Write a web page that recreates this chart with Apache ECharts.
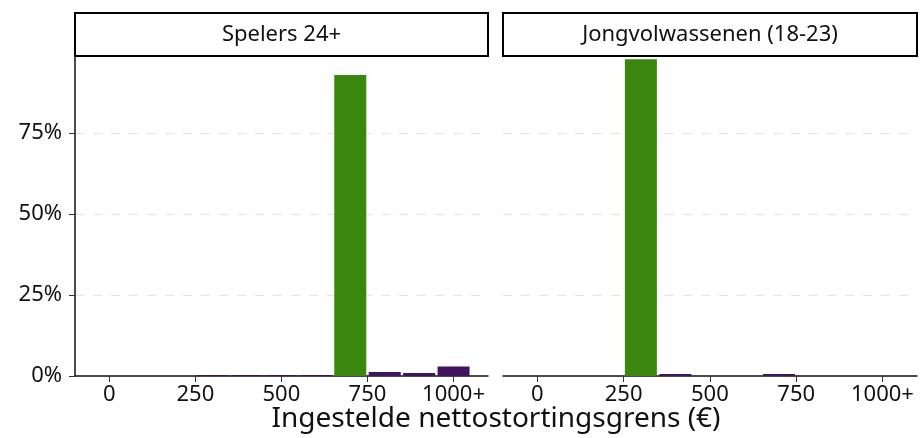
<!DOCTYPE html>
<html>
<head>
<meta charset="utf-8">
<script src="https://cdn.jsdelivr.net/npm/echarts@6/dist/echarts.min.js"></script>
<style>
  html, body { margin: 0; padding: 0; background: #fff; }
  #chart { width: 920px; height: 438px; }
</style>
</head>
<body>
<div id="chart"></div>
<script>
  // facetten
  const panels = ['Spelers 24+', 'Jongvolwassenen (18-23)']
  // grens (euro) -> aandeel (%)
  const spelersGrens = [300, 400, 500, 600, 700, 800, 900, 1000]
  const spelersAandeel = [0.3, 0.3, 0.3, 0.3, 92.9, 1.2, 0.9, 2.9]
  const jongGrens = [300, 400, 700]
  const jongAandeel = [97.8, 0.6, 0.6]
  // standaardgrens per groep (groen gemarkeerd)
  const standaard = [700, 300]
  const xTicks = [0, 250, 500, 750, 1000]
  const yTicks = [0, 25, 50, 75]
  const gridLines = [25, 50, 75]

  const green = '#39870c'
  const purple = '#42145f'
  const font = 'Noto Sans'

  let chart = echarts.init(document.getElementById('chart'))

  let grids = [
    { left: 75, top: 56, width: 413, height: 320 },
    { left: 503, top: 56, width: 414, height: 320 }
  ]

  let xAxes = grids.map((g, i) => {
    return {
      type: 'value',
      gridIndex: i,
      min: -99.5,
      max: 1100,
      axisLine: { show: true, onZero: false, lineStyle: { color: '#111', width: 1.5 } },
      axisTick: { show: true, length: 6, customValues: xTicks, lineStyle: { color: '#333', width: 1 } },
      axisLabel: {
        customValues: xTicks,
        margin: 8,
        color: '#111',
        fontFamily: font,
        fontSize: 22,
        formatter: v => v === 1000 ? '1000+' : String(v)
      },
      splitLine: { show: false }
    }
  })

  let yAxes = grids.map((g, i) => {
    return {
      type: 'value',
      gridIndex: i,
      min: 0,
      max: 98.8,
      interval: 25,
      axisLine: { show: i === 0, onZero: false, lineStyle: { color: '#111', width: 1.5 } },
      axisTick: { show: i === 0, length: 6, customValues: yTicks, lineStyle: { color: '#333', width: 1 } },
      axisLabel: {
        show: i === 0,
        customValues: yTicks,
        margin: 13,
        color: '#111',
        fontFamily: font,
        fontSize: 22,
        formatter: v => v + '%'
      },
      splitLine: { show: false }
    }
  })

  function makeSeries(grens, aandeel, idx) {
    return {
      type: 'bar',
      xAxisIndex: idx,
      yAxisIndex: idx,
      barWidth: 32,
      silent: true,
      data: grens.map((g, k) => {
        return {
          value: [g, aandeel[k]],
          itemStyle: { color: g === standaard[idx] ? green : purple }
        }
      }),
      // lichte hulplijnen
      markLine: {
        silent: true,
        symbol: 'none',
        z: 0,
        label: { show: false },
        lineStyle: { color: '#e4e4e4', type: [9, 9], width: 1.2 },
        data: gridLines.map(v => ({ yAxis: v }))
      }
    }
  }

  let graphic = []
  grids.forEach((g, i) => {
    graphic.push({
      type: 'rect',
      shape: { x: g.left, y: 13, width: g.width, height: 43 },
      style: { fill: '#fff', stroke: '#000', lineWidth: 2 }
    })
    graphic.push({
      type: 'text',
      x: g.left + g.width / 2,
      y: 35,
      style: {
        text: panels[i],
        fill: '#111',
        font: '22px "' + font + '"',
        align: 'center',
        verticalAlign: 'middle'
      }
    })
  })
  graphic.push({
    type: 'text',
    x: 496,
    y: 419,
    style: {
      text: 'Ingestelde nettostortingsgrens (€)',
      fill: '#111',
      font: '28px "' + font + '"',
      align: 'center',
      verticalAlign: 'middle'
    }
  })

  let option = {
    animation: false,
    grid: grids,
    xAxis: xAxes,
    yAxis: yAxes,
    series: [
      makeSeries(spelersGrens, spelersAandeel, 0),
      makeSeries(jongGrens, jongAandeel, 1)
    ],
    graphic: graphic
  }
  chart.setOption(option)
</script>
</body>
</html>
